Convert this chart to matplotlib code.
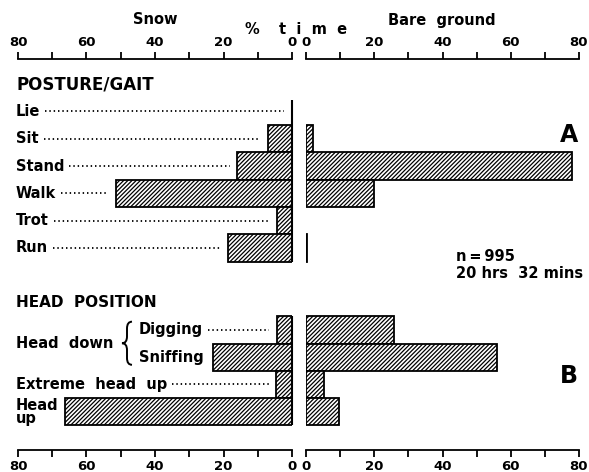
import numpy as np
import matplotlib
matplotlib.use("Agg")
import matplotlib.pyplot as plt
import matplotlib.transforms as mtransforms
from matplotlib.path import Path
from matplotlib.patches import PathPatch

# ---------------------------------------------------------------------------
# Data (% time)
# ---------------------------------------------------------------------------
posture_labels = ['Lie', 'Sit', 'Stand', 'Walk', 'Trot', 'Run']
posture_snow = [0, 7, 16, 51.4, 4.4, 18.7]
posture_bare = [0, 2, 78, 20, 0, 0.4]

head_labels = ['Digging', 'Sniffing', 'Extreme  head  up', 'Head\nup']
head_snow = [4.4, 23, 4.6, 66.3]
head_bare = [25.8, 56, 5.3, 9.7]

posture_y = np.arange(len(posture_labels))          # slots 0..5
head_y = np.arange(len(head_labels)) + 8            # slots 8..11
leader_posture = [True, True, True, True, True, True]
leader_head = [True, False, True, False]

W, H = 589, 472
fig = plt.figure(figsize=(W / 100, H / 100), dpi=100)
plt.rcParams['hatch.linewidth'] = 0.9

FS_TICK = 9.5
FS_LAB = 10.5

y0, y1 = 59, 450
ax_l = fig.add_axes([18 / W, 1 - y1 / H, (292 - 18) / W, (y1 - y0) / H])
ax_r = fig.add_axes([306 / W, 1 - y1 / H, (579 - 306) / W, (y1 - y0) / H])

YLIM = (12.40, -1.92)
bar_kw = dict(height=1.0, color='white', edgecolor='black', linewidth=1.3,
              hatch='////////')

for ax in (ax_l, ax_r):
    ax.set_ylim(*YLIM)
    ax.set_yticks([])
    for s in ('left', 'right'):
        ax.spines[s].set_visible(False)
    for s in ('top', 'bottom'):
        ax.spines[s].set_linewidth(1.3)
    ax.set_xticks(np.arange(0, 81, 10))
    ax.set_xticklabels(['0' if v == 0 else (str(v) if v % 20 == 0 else '')
                        for v in range(0, 81, 10)])
    ax.tick_params(axis='x', top=True, bottom=True, labeltop=True,
                   labelbottom=True, direction='out', length=5, width=1.3,
                   pad=2, labelsize=FS_TICK)
    for lab in ax.get_xticklabels():
        lab.set_fontweight('bold')

ax_l.set_xlim(80, 0)
ax_r.set_xlim(0, 80)


def bars(ax, ys, vals):
    ys = np.asarray(ys)
    vals = np.asarray(vals, dtype=float)
    keep = vals > 0
    ax.barh(ys[keep], vals[keep], **bar_kw)


bars(ax_l, posture_y, posture_snow)
bars(ax_l, head_y, head_snow)
bars(ax_r, posture_y, posture_bare)
bars(ax_r, head_y, head_bare)

# zero lines on the snow side
ax_l.vlines(0, posture_y[0] - 0.43, posture_y[-1] + 0.5, color='black', lw=1.5,
            clip_on=False)
ax_l.vlines(0, head_y[0] - 0.5, head_y[-1] + 0.5, color='black', lw=1.5,
            clip_on=False)

# labels on the left
tr_l = mtransforms.blended_transform_factory(fig.transFigure, ax_l.transData)
x_lab = 16 / W
label_texts = []
for lab, y, v, lead in zip(posture_labels, posture_y, posture_snow, leader_posture):
    t = ax_l.text(x_lab, y, lab, transform=tr_l, ha='left', va='center',
                  fontsize=FS_LAB, fontweight='bold')
    label_texts.append((t, y, v, lead))

x_sub = 139 / W
for lab, y, v, lead in zip(head_labels, head_y, head_snow, leader_head):
    xx = x_sub if lab in ('Digging', 'Sniffing') else x_lab
    t = ax_l.text(xx, y, lab, transform=tr_l, ha='left', va='center',
                  fontsize=FS_LAB, fontweight='bold', linespacing=0.85)
    label_texts.append((t, y, v, lead))

ax_l.text(x_lab, head_y[0] + 0.5, 'Head  down', transform=tr_l, ha='left',
          va='center', fontsize=FS_LAB, fontweight='bold')

ax_l.text(x_lab, -1.0, 'POSTURE/GAIT', transform=tr_l, ha='left', va='center',
          fontsize=12, fontweight='bold')
ax_l.text(x_lab, 7.0, 'HEAD  POSITION', transform=tr_l, ha='left', va='center',
          fontsize=11, fontweight='bold')

# curly brace for "Head down"
xb_l, xb_r = 122 / W, 132 / W
xb_m = (xb_l + xb_r) / 2
yt, yb = head_y[0] - 0.3, head_y[1] + 0.28
ym = (yt + yb) / 2
d = 0.25
verts = [(xb_r, yt), (xb_m, yt), (xb_m, yt + d),
         (xb_m, ym - d),
         (xb_m, ym), (xb_l, ym),
         (xb_m, ym), (xb_m, ym + d),
         (xb_m, yb - d),
         (xb_m, yb), (xb_r, yb)]
codes = [Path.MOVETO, Path.CURVE3, Path.CURVE3,
         Path.LINETO,
         Path.CURVE3, Path.CURVE3,
         Path.CURVE3, Path.CURVE3,
         Path.LINETO,
         Path.CURVE3, Path.CURVE3]
ax_l.add_patch(PathPatch(Path(verts, codes), transform=tr_l, fill=False,
                         lw=1.4, color='black', clip_on=False))

# dotted leaders from label to bar
fig.canvas.draw()
renderer = fig.canvas.get_renderer()
inv = ax_l.transData.inverted()
for t, y, v, lead in label_texts:
    if not lead:
        continue
    bb = t.get_window_extent(renderer)
    xs = inv.transform((bb.x1 + 5, 0))[0]
    ax_l.plot([xs, v + 2.2], [y, y], color='black', lw=1.3,
              linestyle=(0, (0.8, 1.6)), clip_on=False)

# panel letters and sample note
tr_r = mtransforms.blended_transform_factory(fig.transFigure, ax_r.transData)
ax_r.text(578 / W, 0.86, 'A', transform=tr_r, ha='right', va='center',
          fontsize=17, fontweight='bold')
ax_r.text(578 / W, 9.7, 'B', transform=tr_r, ha='right', va='center',
          fontsize=17, fontweight='bold')
ax_r.text(456 / W, 5.62, 'n\u2009=\u2009995\n20 hrs  32 mins', transform=tr_r,
          ha='left', va='center', fontsize=FS_LAB, fontweight='bold',
          linespacing=1.2)

# top titles
fig.text(155 / W, 1 - 20 / H, 'Snow', ha='center', va='center',
         fontsize=FS_LAB, fontweight='bold')
fig.text(442 / W, 1 - 20 / H, 'Bare  ground', ha='center', va='center',
         fontsize=FS_LAB, fontweight='bold')
fig.text(252 / W, 1 - 29 / H, '%', ha='center', va='center',
         fontsize=FS_LAB, fontweight='bold')
fig.text(279 / W, 1 - 30 / H, 't  i  m  e', ha='left', va='center',
         fontsize=FS_LAB, fontweight='bold')

fig.savefig('out.png', dpi=100)
